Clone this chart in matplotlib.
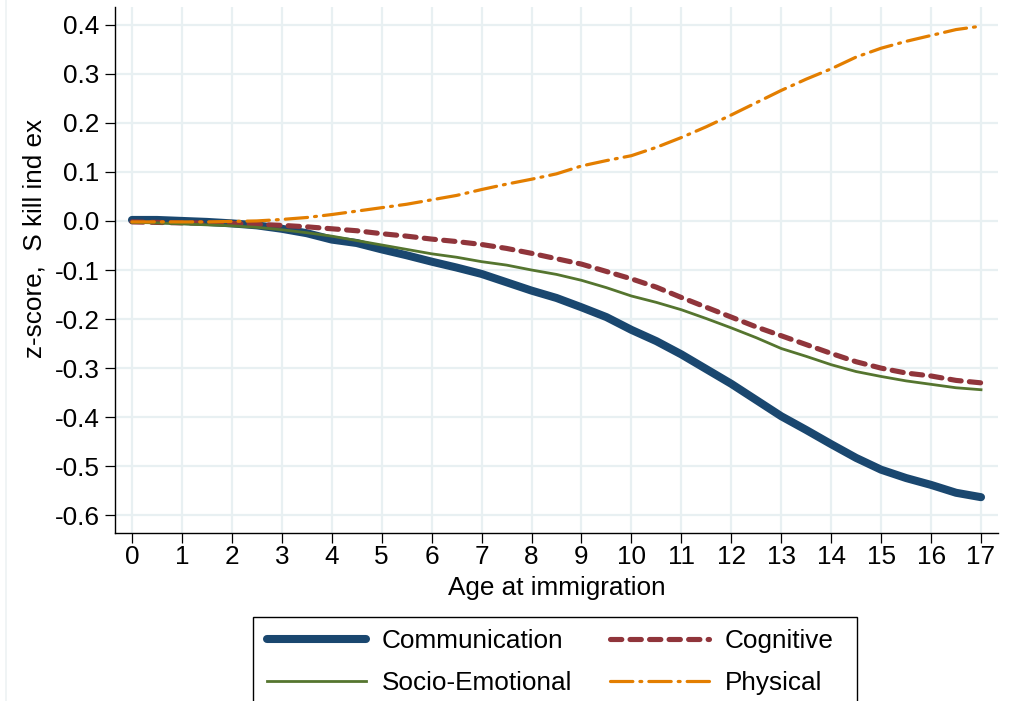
import matplotlib
matplotlib.use("Agg")
import matplotlib.pyplot as plt
from matplotlib.lines import Line2D
from matplotlib.patches import Rectangle

plt.rcParams['font.family'] = ['Liberation Sans', 'DejaVu Sans']

# Age at immigration (years)
age = [0, 0.5, 1, 1.5, 2, 2.5, 3, 3.5, 4, 4.5, 5, 5.5, 6, 6.5, 7, 7.5, 8, 8.5,
       9, 9.5, 10, 10.5, 11, 11.5, 12, 12.5, 13, 13.5, 14, 14.5, 15, 15.5, 16,
       16.5, 17]

communication = [0.002, 0.002, 0.0, -0.002, -0.005, -0.009, -0.016, -0.025,
                 -0.038, -0.045, -0.058, -0.070, -0.083, -0.095, -0.108,
                 -0.125, -0.142, -0.157, -0.176, -0.196, -0.222, -0.245,
                 -0.272, -0.302, -0.332, -0.365, -0.398, -0.426, -0.455,
                 -0.483, -0.507, -0.524, -0.538, -0.554, -0.563]

cognitive = [-0.002, -0.003, -0.004, -0.004, -0.005, -0.007, -0.009, -0.012,
             -0.016, -0.020, -0.026, -0.031, -0.037, -0.042, -0.048, -0.056,
             -0.066, -0.077, -0.088, -0.103, -0.118, -0.135, -0.156, -0.176,
             -0.196, -0.216, -0.234, -0.252, -0.270, -0.287, -0.300, -0.310,
             -0.316, -0.325, -0.330]

socio_emotional = [-0.003, -0.004, -0.006, -0.008, -0.010, -0.013, -0.018,
                   -0.024, -0.031, -0.040, -0.049, -0.058, -0.067, -0.074,
                   -0.083, -0.090, -0.100, -0.109, -0.121, -0.136, -0.153,
                   -0.166, -0.181, -0.199, -0.218, -0.238, -0.260, -0.276,
                   -0.293, -0.307, -0.317, -0.326, -0.333, -0.340, -0.344]

physical = [-0.002, -0.002, -0.002, -0.002, -0.001, 0.0, 0.003, 0.007, 0.013,
            0.020, 0.027, 0.034, 0.043, 0.052, 0.064, 0.075, 0.085, 0.096,
            0.112, 0.123, 0.133, 0.150, 0.170, 0.192, 0.216, 0.241, 0.266,
            0.289, 0.310, 0.334, 0.352, 0.366, 0.378, 0.390, 0.397]

x_ticks = list(range(0, 18))
y_ticks = [0.4, 0.3, 0.2, 0.1, 0.0, -0.1, -0.2, -0.3, -0.4, -0.5, -0.6]

series_labels = ["Communication", "Cognitive", "Socio-Emotional", "Physical"]

NAVY = '#1a476f'
MAROON = '#90353b'
GREEN = '#55752f'
ORANGE = '#e37e00'
GRID = '#e8f0f2'
FS = 18.8

W, H = 1019, 701
fig = plt.figure(figsize=(W / 100, H / 100), dpi=100)
fig.patch.set_facecolor('white')

ax = fig.add_axes([115 / W, 1 - 533 / H, (998 - 115) / W, (533 - 7) / H])

ax.plot(age, communication, color=NAVY, lw=5.8, solid_capstyle='round',
        solid_joinstyle='round', label=series_labels[0], zorder=3)
ax.plot(age, cognitive, color=MAROON, lw=3.7, dashes=(2.2, 1.6),
        dash_capstyle='round', label=series_labels[1], zorder=4)
ax.plot(age, socio_emotional, color=GREEN, lw=2.0, label=series_labels[2],
        zorder=4)
ax.plot(age, physical, color=ORANGE, lw=2.3, dashes=(7, 2.2, 0.6, 2.2),
        dash_capstyle='round', label=series_labels[3], zorder=5)

ax.set_xlim(-0.34, 17.34)
ax.set_ylim(-0.636, 0.436)
ax.set_xticks(x_ticks)
ax.set_yticks(y_ticks)
ax.set_yticklabels([f"{v:.1f}" for v in y_ticks])
ax.grid(True, color=GRID, lw=1.6, zorder=0)
ax.set_axisbelow(True)

for s in ('top', 'right'):
    ax.spines[s].set_visible(False)
for s in ('left', 'bottom'):
    ax.spines[s].set_linewidth(1.0)
    ax.spines[s].set_color('black')

ax.tick_params(axis='both', length=7, width=0.9, labelsize=FS, colors='black')
ax.tick_params(axis='y', pad=4)
ax.tick_params(axis='x', pad=2)
ax.set_xlabel("Age at immigration", fontsize=FS, labelpad=5)
ax.set_ylabel("z-score,  S kill ind ex", fontsize=FS)
ax.yaxis.set_label_coords(-68 / (998 - 115), 0.56)

# faint outer border of the graph region
fig.add_artist(Line2D([6 / W, 6 / W], [0, 1], color='#eef2f4', lw=1.2))

# legend box (runs off the bottom edge)
fig.add_artist(Rectangle((253 / W, -0.05), (857 - 253) / W,
                         1 - 617 / H + 0.05, transform=fig.transFigure,
                         fill=False, edgecolor='black', lw=1.0))

handles, labels = ax.get_legend_handles_labels()
order = [0, 2, 1, 3]
leg = fig.legend([handles[i] for i in order], [labels[i] for i in order],
                 ncol=2, frameon=False, loc='upper left',
                 bbox_to_anchor=(267 / W, 1 - 629 / H), fontsize=FS,
                 handlelength=3.8, handletextpad=0.6, columnspacing=1.45,
                 labelspacing=0.68, borderaxespad=0, borderpad=0.0)

fig.savefig("out.png", dpi=100)
